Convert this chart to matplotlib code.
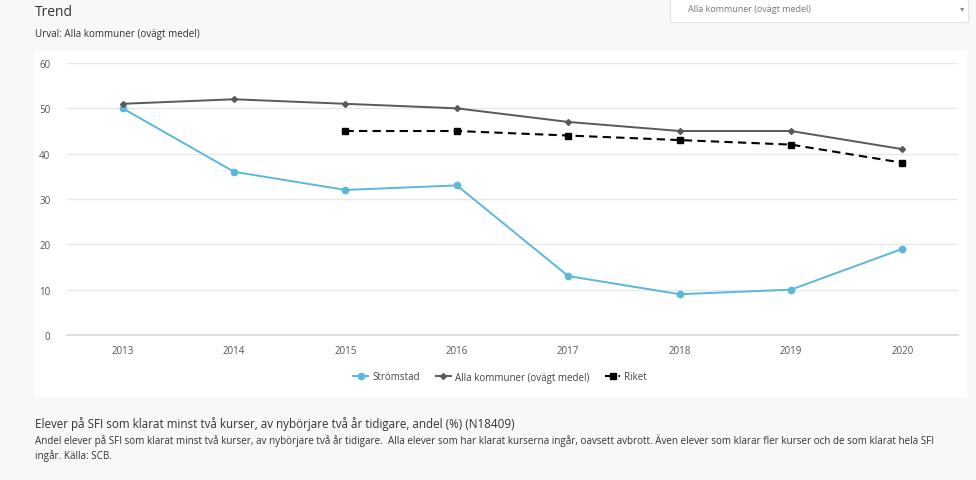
import matplotlib.pyplot as plt
from matplotlib.patches import Rectangle

plt.rcParams['font.family'] = ['Open Sans', 'DejaVu Sans']

# data
years = ["2013", "2014", "2015", "2016", "2017", "2018", "2019", "2020"]
stromstad = [50, 36, 32, 33, 13, 9, 10, 19]
alla_kommuner = [51, 52, 51, 50, 47, 45, 45, 41]
riket_years = ["2015", "2016", "2017", "2018", "2019", "2020"]
riket = [45, 45, 44, 43, 42, 38]
yticks = [0, 10, 20, 30, 40, 50, 60]

W, H = 976, 481
fig = plt.figure(figsize=(W / 100, H / 100), dpi=100, facecolor="#f8f8f8")

# white chart panel
fig.patches.append(Rectangle((34 / W, 1 - 398 / H), (967 - 34) / W, (398 - 52) / H,
                             transform=fig.transFigure, facecolor="white",
                             edgecolor="none", zorder=-5))
# dropdown box at top right
fig.patches.append(Rectangle((670 / W, 1 - 23 / H), (968 - 670) / W, 25 / H,
                             transform=fig.transFigure, facecolor="white",
                             edgecolor="#e2e2e2", linewidth=0.8, zorder=-5))
fig.text(688 / W, 1 - 10 / H, "Alla kommuner (ovägt medel)", fontsize=6.5,
         color="#777777", va="center")
fig.text(960 / W, 1 - 10 / H, "▾", fontsize=6, color="#888888", va="center")

ax = fig.add_axes([67 / W, 1 - 336 / H, (958 - 67) / W, (336 - 64) / H])
ax.set_zorder(2)
ax.set_facecolor("white")
x = list(range(len(years)))
rx = [years.index(y) for y in riket_years]

ax.plot(x, stromstad, color="#5bb8da", linewidth=1.4, marker="o", markersize=4.5,
        label="Strömstad", zorder=3)
ax.plot(x, alla_kommuner, color="#595959", linewidth=1.4, marker="D", markersize=3,
        label="Alla kommuner (ovägt medel)", zorder=3)
ax.plot(rx, riket, color="#000000", linewidth=1.5, linestyle=(0, (4, 2.5)), marker="s",
        markersize=5, label="Riket", zorder=4)

ax.set_xlim(-0.5, len(years) - 0.5)
ax.set_ylim(0, 60)
ax.set_xticks(x)
ax.set_xticklabels(years)
ax.set_yticks(yticks)
ax.tick_params(length=0, labelsize=7, colors="#555555")
ax.tick_params(axis="y", pad=12)
ax.tick_params(axis="x", pad=7)
ax.grid(axis="y", color="#e8e8e8", linewidth=1)
ax.set_axisbelow(True)
for s in ["top", "right", "left"]:
    ax.spines[s].set_visible(False)
ax.spines["bottom"].set_color("#d8d8d8")
ax.spines["bottom"].set_linewidth(1.2)

fig.legend(loc="center", bbox_to_anchor=(500 / W, 1 - 378 / H), ncol=3, frameon=False,
           fontsize=7, handlelength=1.6, handletextpad=0.4, columnspacing=1.6,
           labelcolor="#444444")

fig.text(35 / W, 1 - 12 / H, "Trend", fontsize=10, color="#333333", va="center")
fig.text(35 / W, 1 - 34 / H, "Urval: Alla kommuner (ovägt medel)", fontsize=7.1,
         color="#333333", va="center")
fig.text(35 / W, 1 - 424 / H,
         "Elever på SFI som klarat minst två kurser, av nybörjare två år tidigare, andel (%) (N18409)",
         fontsize=8.4, color="#333333", va="center")
fig.text(35 / W, 1 - 441 / H,
         "Andel elever på SFI som klarat minst två kurser, av nybörjare två år tidigare.  Alla elever som har klarat kurserna ingår, oavsett avbrott. Även elever som klarar fler kurser och de som klarat hela SFI",
         fontsize=7.1, color="#333333", va="center")
fig.text(35 / W, 1 - 456 / H, "ingår. Källa: SCB.", fontsize=7.1, color="#333333", va="center")

fig.savefig("out.png", dpi=100, facecolor=fig.get_facecolor())
